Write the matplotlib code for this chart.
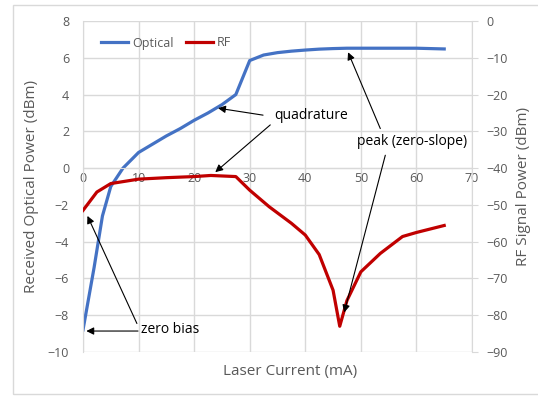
import matplotlib.pyplot as plt
from matplotlib.patches import Rectangle
from matplotlib.lines import Line2D

# optical power vs laser current (left axis, dBm)
opt_current = [0, 2, 3.5, 5, 7.2, 10, 12.5, 15, 17.5, 20, 22.5, 25, 27.5,
               30, 32.5, 35, 37.5, 40, 42.5, 45, 47.5, 50, 55, 60, 65]
opt_power = [-8.8, -5.4, -2.6, -1.0, 0.0, 0.85, 1.3, 1.75, 2.15, 2.6, 3.0, 3.45, 4.0,
             5.85, 6.15, 6.28, 6.36, 6.42, 6.47, 6.5, 6.52, 6.52, 6.52, 6.52, 6.48]

# RF signal power vs laser current (right axis, dBm)
rf_current = [0, 2.5, 5, 10, 15, 20, 23, 27.5, 30, 33.5, 37.5, 40, 42.5,
              45, 46.2, 47.5, 50, 53.5, 57.5, 60, 65]
rf_power = [-51.5, -46.5, -44.2, -43.0, -42.6, -42.3, -42.0, -42.3, -46.0, -50.5, -55.0,
            -58.2, -63.5, -73.2, -83.0, -76.0, -68.2, -63.2, -58.6, -57.5, -55.6]

x_ticks = [0, 10, 20, 30, 40, 50, 60, 70]
left_ticks = [-10, -8, -6, -4, -2, 0, 2, 4, 6, 8]
right_ticks = [-90, -80, -70, -60, -50, -40, -30, -20, -10, 0]

BLUE = "#4472C4"
RED = "#C00000"
GRAY = "#595959"
GRID = "#D9D9D9"

plt.rcParams['font.family'] = ['Open Sans', 'DejaVu Sans']

W, H = 538, 396
fig = plt.figure(figsize=(W / 100, H / 100), dpi=100)

# chart area border
fig.patches.append(Rectangle((13 / W, 1 - 394 / H), 540 / W, 389 / H,
                             transform=fig.transFigure, fill=False,
                             edgecolor="#D9D9D9", lw=1))

ax = fig.add_axes([83 / W, 1 - 352 / H, (472 - 83) / W, (352 - 21) / H])
ax.set_xlim(0, 70)
ax.set_ylim(-10, 8)
ax.set_xticks(x_ticks)
ax.set_yticks(left_ticks)
ax.grid(True, color=GRID, lw=1)
ax.set_axisbelow(True)
for s in ["top", "right"]:
    ax.spines[s].set_visible(False)
ax.spines["left"].set_color(GRID)
ax.spines["bottom"].set_position(("data", 0))
ax.spines["bottom"].set_color(GRID)
ax.tick_params(axis="both", length=0, labelsize=9, labelcolor=GRAY)
ax.tick_params(axis="x", pad=3)
ax.tick_params(axis="y", pad=10)

ax.plot(opt_current, opt_power, color=BLUE, lw=2.3)

ax2 = ax.twinx()
ax2.set_ylim(-90, 0)
ax2.set_yticks(right_ticks)
for s in ["top", "left", "bottom"]:
    ax2.spines[s].set_visible(False)
ax2.spines["right"].set_color(GRID)
ax2.tick_params(axis="y", length=4, color=GRID, labelsize=9, labelcolor=GRAY, pad=6)
ax2.plot(rf_current, rf_power, color=RED, lw=2.3)

ax.set_ylabel("Received Optical Power (dBm)", fontsize=11, color=GRAY, labelpad=6)
ax2.set_ylabel("RF Signal Power (dBm)", fontsize=11, color=GRAY, labelpad=6)
fig.text(290 / W, 1 - 372 / H, "Laser Current (mA)", fontsize=11, color=GRAY,
         ha="center", va="center")

# legend
handles = [Line2D([], [], color=BLUE, lw=2.3), Line2D([], [], color=RED, lw=2.3)]
fig.legend(handles, ["Optical", "RF"], loc="center", bbox_to_anchor=(166 / W, 1 - 43 / H),
           ncol=2, frameon=False, fontsize=9, labelcolor=GRAY, handlelength=2.2,
           handletextpad=0.3, columnspacing=1.0)

# annotations
arrow = dict(arrowstyle="-|>", color="black", lw=0.8, mutation_scale=11,
             shrinkA=0, shrinkB=0)
tr = ax.transData


def note(text, tx, ty, tails, tips):
    ax2.text(tx, ty, text, transform=tr, fontsize=10, color="black",
             ha="left", va="center")
    for (x0, y0), (x1, y1) in zip(tails, tips):
        ax2.annotate("", xy=(x1, y1), xycoords=tr, xytext=(x0, y0),
                     textcoords=tr, arrowprops=arrow)


note("quadrature", 34.4, 2.85, [(32.4, 2.88), (33.7, 2.35)],
     [(24.3, 3.26), (23.8, -0.22)])
note("peak (zero-slope)", 49.3, 1.45, [(53.5, 2.15), (54.4, 0.7)],
     [(47.7, 6.3), (47.0, -7.85)])
note("zero bias", 10.5, -8.8, [(9.9, -8.86), (9.7, -8.45)],
     [(0.6, -8.86), (0.8, -2.6)])

fig.savefig("out.png", dpi=100)
